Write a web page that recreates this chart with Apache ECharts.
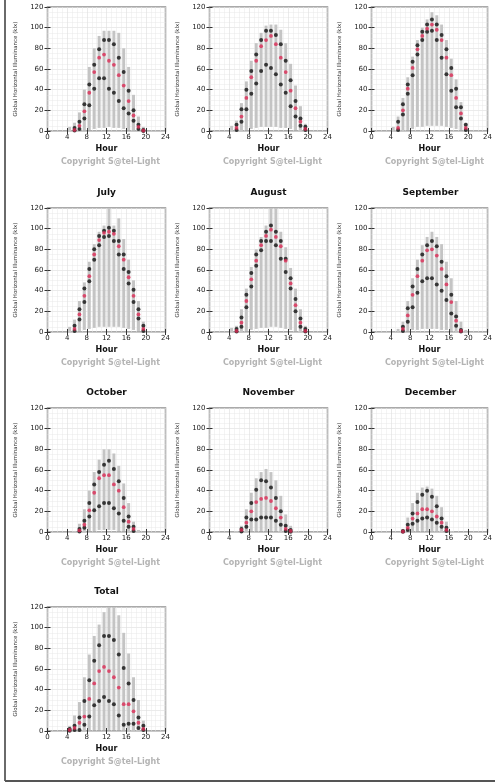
<!DOCTYPE html>
<html><head><meta charset="utf-8">
<script src="https://cdn.jsdelivr.net/npm/echarts@6/dist/echarts.min.js"></script>
<style>html,body{margin:0;padding:0;background:#fff}#c{width:495px;height:784px}</style>
</head><body><div id="c"></div>
<script>
// ---------- data ----------
const hours = [4.5,5.5,6.5,7.5,8.5,9.5,10.5,11.5,12.5,13.5,14.5,15.5,16.5,17.5,18.5,19.5];
const panelNames = ['April','May','June','July','August','September','October','November','December','Total'];
const yAxisName = 'Global Horizontal Illuminance (klx)';
const xAxisName = 'Hour';
const copyright = 'Copyright S@tel-Light';

const aprMax  = [4, 8, 18, 40, 62, 80, 92, 97, 97, 97, 95, 80, 62, 35, 14, 4];
const aprMin  = [0, 0, 0, 0.5, 1, 2, 3, 3, 4, 3, 3, 2, 1, 0.5, 0, 0];
const aprHigh = [null, 3, 9, 26, 45, 64, 79, 88, 88, 84, 71, 57, 39, 20, 6, 1];
const aprMid  = [null, 1, 5, 19, 37, 57, 71, 74, 68, 64, 54, 44, 29, 15, 4, 0.5];
const aprLow  = [null, 0.5, 2, 12, 25, 41, 51, 51, 41, 37, 29, 22, 17, 10, 2, 0];

const mayMax  = [5, 10, 27, 48, 68, 85, 95, 102, 103, 103, 98, 85, 65, 44, 24, 7];
const mayMin  = [0, 0, 0, 1, 2, 3, 4, 4, 4, 4, 3, 3, 2, 1, 0, 0];
const mayHigh = [null, 6, 21, 40, 58, 74, 88, 97, 97, 93, 84, 68, 49, 29, 12, 4];
const mayMid  = [null, 3, 14, 32, 52, 68, 82, 88, 92, 84, 71, 57, 39, 22, 9, 2];
const mayLow  = [null, 1, 9, 21, 36, 46, 58, 64, 61, 55, 45, 37, 24, 14, 5, 1];

const junMax  = [4, 14, 32, 52, 72, 88, 100, 108, 115, 112, 103, 88, 70, 50, 28, 8];
const junMin  = [0, 0, 0, 1, 2, 4, 4, 5, 5, 5, 5, 4, 3, 2, 1, 0];
const junHigh = [null, 9, 26, 45, 67, 83, 96, 103, 108, 103, 93, 79, 61, 41, 23, 6];
const junMid  = [null, 3, 20, 41, 61, 79, 92, 99, 103, 98, 88, 71, 54, 32, 17, 3];
const junLow  = [null, 1, 16, 36, 54, 74, 88, 96, 97, 88, 71, 55, 39, 23, 12, 1];

const julMax  = [5, 12, 30, 48, 68, 85, 97, 103, 125, 103, 110, 90, 70, 50, 30, 10];
const julMin  = [0, 0, 1, 2, 3, 4, 5, 5, 5, 5, 5, 4, 3, 2, 1, 0];
const julHigh = [null, 6, 22, 42, 61, 80, 93, 98, 101, 98, 88, 75, 58, 41, 22, 6];
const julMid  = [null, 3, 17, 35, 54, 75, 89, 96, 97, 95, 83, 70, 53, 35, 17, 3];
const julLow  = [null, 1, 12, 29, 49, 70, 84, 92, 93, 88, 75, 61, 47, 29, 13, 1];

const augMax  = [4, 6, 22, 42, 63, 80, 92, 103, 125, 125, 97, 82, 62, 42, 22, 6];
const augMin  = [0, 0, 0, 1, 2, 3, 4, 4, 5, 5, 4, 3, 2, 1, 0, 0];
const augHigh = [null, 3, 14, 36, 57, 75, 88, 97, 103, 97, 88, 71, 52, 32, 13, 3];
const augMid  = [null, 1, 9, 30, 51, 69, 84, 93, 99, 92, 83, 69, 47, 26, 9, 1];
const augLow  = [null, 0.5, 5, 24, 44, 64, 79, 88, 88, 84, 71, 58, 42, 20, 5, 0.5];

const sepMax  = [null, 3, 10, 30, 52, 70, 84, 92, 97, 92, 85, 68, 52, 30, 10, 2];
const sepMin  = [null, 0, 0, 1, 2, 2, 3, 3, 3, 3, 2, 2, 1, 0, 0, 0];
const sepHigh = [null, null, 5, 23, 44, 61, 75, 84, 88, 83, 68, 54, 36, 15, 2, null];
const sepMid  = [null, null, 3, 16, 36, 54, 69, 79, 80, 74, 61, 46, 29, 11, 1, null];
const sepLow  = [null, null, 1, 10, 24, 38, 49, 52, 52, 46, 40, 31, 18, 6, 0.5, null];

const octMax  = [null, 1, 8, 22, 40, 58, 70, 80, 80, 76, 64, 47, 28, 10, 2, null];
const octMin  = [null, 0, 0, 0, 1, 1, 2, 2, 2, 2, 1, 1, 0, 0, 0, null];
const octHigh = [null, null, 3, 11, 28, 46, 58, 65, 69, 61, 49, 33, 15, 5, null, null];
const octMid  = [null, null, 1.5, 7, 21, 38, 52, 55, 55, 46, 40, 24, 10, 3, null, null];
const octLow  = [null, null, 0.5, 4, 15, 21, 25, 28, 28, 23, 18, 11, 5, 1, null, null];

const novMax  = [null, 1, 6, 22, 38, 52, 58, 61, 58, 50, 35, 17, 6, 1, null, null];
const novMin  = [null, 0, 0, 0, 1, 1, 1, 1, 1, 1, 0, 0, 0, 0, null, null];
const novHigh = [null, null, 3, 14, 28, 41, 50, 49, 43, 33, 20, 6, 2, null, null, null];
const novMid  = [null, null, 2, 9, 20, 29, 32, 33, 30, 23, 14, 3, 1, null, null, null];
const novLow  = [null, null, 0.5, 5, 12, 12, 14, 14, 14, 11, 7, 1, 0.3, null, null, null];

const decMax  = [null, null, 3, 14, 28, 38, 43, 44, 42, 35, 24, 10, 1, null, null, null];
const decMin  = [null, null, 0, 0, 0.5, 1, 1, 1, 0.5, 0.5, 0, 0, 0, null, null, null];
const decHigh = [null, null, 1, 7, 18, 29, 36, 40, 34, 25, 13, 4, null, null, null, null];
const decMid  = [null, null, 0.5, 4, 13, 18, 22, 22, 20, 15, 9, 2, null, null, null, null];
const decLow  = [null, null, 0.2, 2, 8, 11, 13, 14, 12, 9, 5, 1, null, null, null, null];

const totMax  = [5, 15, 28, 52, 74, 92, 103, 115, 125, 125, 112, 95, 75, 52, 30, 10];
const totMin  = [0, 0, 0, 0, 0.5, 1, 1, 1, 1, 1, 1, 0.5, 0, 0, 0, 0];
const totHigh = [2, 5, 13, 29, 49, 68, 83, 92, 92, 88, 74, 61, 46, 30, 13, 5];
const totMid  = [1, 3, 8, 14, 31, 46, 58, 62, 58, 52, 42, 26, 26, 19, 8, 2];
const totLow  = [0.3, 1, 1, 6, 14, 25, 29, 33, 29, 26, 15, 6, 7, 7, 3, 1];

const panelMax  = [aprMax, mayMax, junMax, julMax, augMax, sepMax, octMax, novMax, decMax, totMax];
const panelMin  = [aprMin, mayMin, junMin, julMin, augMin, sepMin, octMin, novMin, decMin, totMin];
const panelHigh = [aprHigh, mayHigh, junHigh, julHigh, augHigh, sepHigh, octHigh, novHigh, decHigh, totHigh];
const panelMid  = [aprMid, mayMid, junMid, julMid, augMid, sepMid, octMid, novMid, decMid, totMid];
const panelLow  = [aprLow, mayLow, junLow, julLow, augLow, sepLow, octLow, novLow, decLow, totLow];

// ---------- layout / style ----------
const FONT = 'DejaVu Sans';
const colLeft = [47.5, 209.5, 371.5];
const rowTop = [7, 208, 408, 607];
const W = 118, H = 124;

const grids = [], xAxes = [], yAxes = [], series = [], graphics = [];

function pts(arr) {
  const out = [];
  hours.forEach((h, k) => { if (arr[k] !== null && arr[k] !== undefined) out.push([h, arr[k]]); });
  return out;
}

panelNames.forEach((name, i) => {
  const c = i % 3, r = Math.floor(i / 3);
  const left = colLeft[c], top = rowTop[r];
  grids.push({left: left, top: top, width: W, height: H, show: true,
    borderColor: '#8e8e8e', borderWidth: 1.5, backgroundColor: '#fff'});
  const xi = xAxes.length, yi = yAxes.length;
  xAxes.push({type: 'value', gridIndex: i, min: 0, max: 24, interval: 4, position: 'bottom',
    name: xAxisName, nameLocation: 'middle', nameGap: 14,
    nameTextStyle: {fontFamily: FONT, fontSize: 8, fontWeight: 'bold', color: '#111'},
    axisLine: {show: false},
    axisTick: {show: true, inside: true, length: 3, lineStyle: {color: '#333', width: 1}},
    axisLabel: {fontFamily: FONT, fontSize: 7, color: '#1a1a1a', margin: 3},
    splitLine: {show: true, lineStyle: {color: '#dedede', width: 0.6}},
    minorTick: {show: false, splitNumber: 4},
    minorSplitLine: {show: true, lineStyle: {color: '#e9e9e9', width: 0.5}}});
  xAxes.push({type: 'value', gridIndex: i, min: 0, max: 24, interval: 4, position: 'top',
    axisLine: {show: false},
    axisTick: {show: true, inside: true, length: 3, lineStyle: {color: '#333', width: 1}},
    axisLabel: {show: false}, splitLine: {show: false}});
  yAxes.push({type: 'value', gridIndex: i, min: 0, max: 120, interval: 20, position: 'left',
    name: yAxisName, nameLocation: 'middle', nameGap: 29, nameRotate: 90,
    nameTextStyle: {fontFamily: FONT, fontSize: 5.5, color: '#333'},
    axisLine: {show: false},
    axisTick: {show: true, inside: true, length: 3, lineStyle: {color: '#333', width: 1}},
    axisLabel: {fontFamily: FONT, fontSize: 7, color: '#1a1a1a', margin: 4},
    splitLine: {show: true, lineStyle: {color: '#dedede', width: 0.6}},
    minorTick: {show: false, splitNumber: 4},
    minorSplitLine: {show: true, lineStyle: {color: '#e9e9e9', width: 0.5}}});
  yAxes.push({type: 'value', gridIndex: i, min: 0, max: 120, interval: 20, position: 'right',
    axisLine: {show: false},
    axisTick: {show: true, inside: true, length: 3, lineStyle: {color: '#333', width: 1}},
    axisLabel: {show: false}, splitLine: {show: false}});

  const rangeData = [];
  hours.forEach((h, k) => {
    if (panelMax[i][k] !== null) rangeData.push([h, panelMin[i][k], panelMax[i][k]]);
  });
  series.push({type: 'custom', xAxisIndex: xi, yAxisIndex: yi, clip: true, silent: true,
    data: rangeData, z: 2,
    renderItem: function (params, api) {
      const x = api.value(0), lo = api.value(1), hi = api.value(2);
      const p1 = api.coord([x, lo]), p2 = api.coord([x, hi]);
      const cs = params.coordSys;
      const w = api.size([1, 0])[0] * 0.6;
      const yTop = Math.max(p2[1], cs.y);
      return {type: 'rect', shape: {x: p1[0] - w / 2, y: yTop, width: w, height: p1[1] - yTop},
        style: {fill: '#c4c4c4'}};
    }});
  series.push({type: 'scatter', xAxisIndex: xi, yAxisIndex: yi, data: pts(panelHigh[i]),
    symbolSize: 4, itemStyle: {color: '#111'}, z: 3, silent: true});
  series.push({type: 'scatter', xAxisIndex: xi, yAxisIndex: yi, data: pts(panelLow[i]),
    symbolSize: 4, itemStyle: {color: '#111'}, z: 3, silent: true});
  series.push({type: 'scatter', xAxisIndex: xi, yAxisIndex: yi, data: pts(panelMid[i]),
    symbolSize: 3.8, itemStyle: {color: '#dc2a55'}, z: 4, silent: true});

  if (r > 0) {
    graphics.push({type: 'text', x: left + W / 2, y: top - 15,
      style: {text: name, fontFamily: FONT, fontSize: 9, fontWeight: 'bold', fill: '#111',
        textAlign: 'center', textVerticalAlign: 'middle'}});
  }
  graphics.push({type: 'text', x: left + W / 2 + 4, y: top + H + 31,
    style: {text: copyright, fontFamily: FONT, fontSize: 8, fontWeight: 'bold', fill: '#b4b4b4',
      textAlign: 'center', textVerticalAlign: 'middle'}});
});

graphics.push({type: 'line', shape: {x1: 5, y1: 0, x2: 5, y2: 781}, style: {stroke: '#6a6a6a', lineWidth: 2}});
graphics.push({type: 'line', shape: {x1: 5, y1: 781, x2: 495, y2: 781}, style: {stroke: '#555', lineWidth: 2}});

const chart = echarts.init(document.getElementById('c'), null, {renderer: 'canvas'});
chart.setOption({
  animation: false,
  backgroundColor: '#fff',
  grid: grids, xAxis: xAxes, yAxis: yAxes, series: series,
  graphic: graphics
});
</script></body></html>
